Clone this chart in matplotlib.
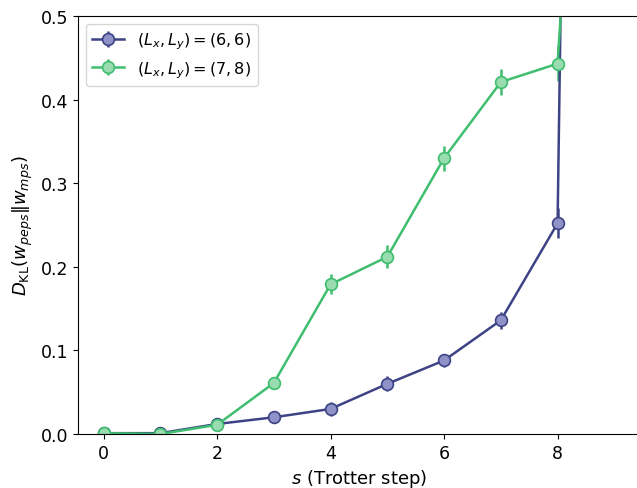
import numpy as np
import matplotlib.pyplot as plt

steps = [0, 1, 2, 3, 4, 5, 6, 7, 8, 9]

# (Lx, Ly) = (6, 6)
kl_66 = [0.001, 0.001, 0.012, 0.020, 0.030, 0.060, 0.088, 0.136, 0.252, 5.0]
err_66 = [0.001, 0.001, 0.003, 0.005, 0.008, 0.009, 0.008, 0.010, 0.018, 0.3]

# (Lx, Ly) = (7, 8)
kl_78 = [0.001, 0.000, 0.011, 0.061, 0.179, 0.212, 0.330, 0.421, 0.443, 1.5]
err_78 = [0.001, 0.001, 0.003, 0.005, 0.012, 0.014, 0.015, 0.016, 0.021, 0.1]

fig = plt.figure(figsize=(6.37, 4.89), dpi=100)
ax = fig.add_axes([0.1225, 0.1104, 0.882, 0.8548])


def plotKL(ax, x, y, err, line_c, face_c, label):
    ax.errorbar(x, y, yerr=err, color=line_c, ecolor=line_c, elinewidth=1.8,
                capsize=0, lw=1.8, marker='o', markersize=8.5,
                markerfacecolor=face_c, markeredgecolor=line_c,
                markeredgewidth=1.2, label=label)


plotKL(ax, steps, kl_66, err_66, '#3d4385', '#8e92c8', r'$(L_x,L_y)=(6,6)$')
plotKL(ax, steps, kl_78, err_78, '#3fbe6f', '#99dcb0', r'$(L_x,L_y)=(7,8)$')

ax.set_xlim(-0.45, 9.45)
ax.set_ylim(0, 0.5)
ax.set_xticks([0, 2, 4, 6, 8])
ax.set_yticks([0.0, 0.1, 0.2, 0.3, 0.4, 0.5])
ax.tick_params(labelsize=12.5)
ax.set_xlabel(r'$s$ (Trotter step)', fontsize=13)
ax.set_ylabel(r'$D_{\mathrm{KL}}(w_{peps} \| w_{mps})$', fontsize=13)
ax.legend(loc='upper left', fontsize=11.5)

plt.savefig('out.png')
